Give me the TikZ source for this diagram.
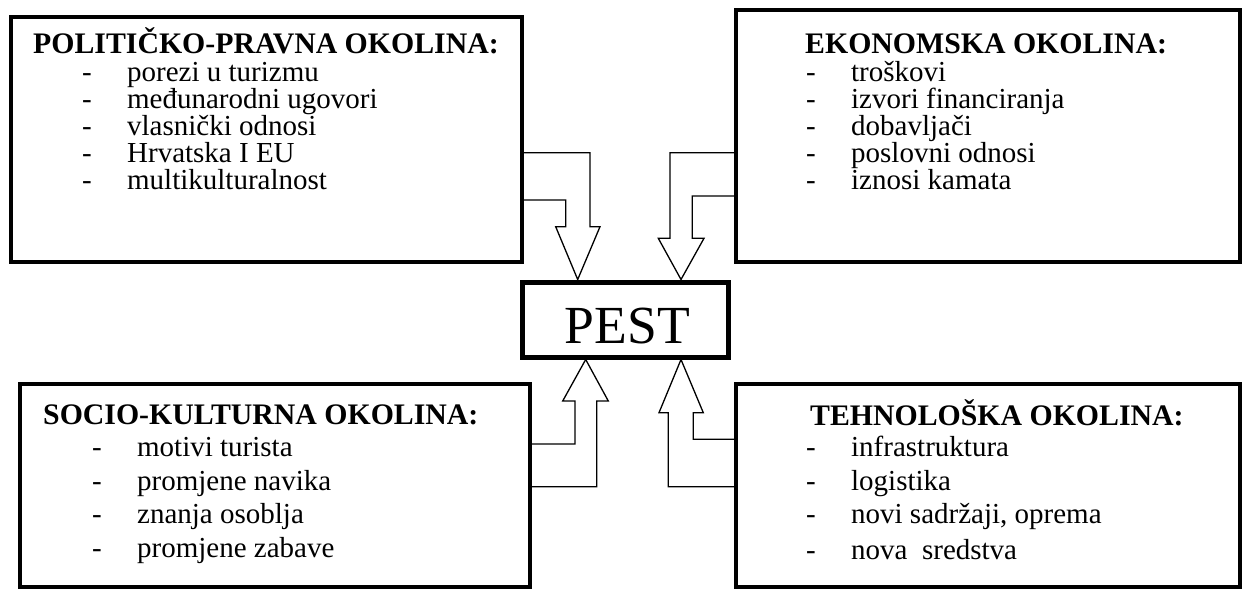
\documentclass[tikz,border=0pt]{standalone}
\usepackage{fontspec}
\setmainfont{Liberation Serif}
\pgfdeclarelayer{bg}
\pgfsetlayers{bg,main}
\begin{document}
\begin{tikzpicture}[x=1pt,y=-1pt,
  box/.style={draw, line width=4.5pt, outer sep=0pt, inner sep=0pt},
  ttl/.style={anchor=base west, inner sep=0pt, font=\fontsize{29.8}{30}\selectfont\bfseries},
  itm/.style={anchor=base west, inner sep=0pt, font=\fontsize{29}{29}\selectfont},
  barrow/.style={draw, line width=1.3pt, fill=white, line join=miter}]
\useasboundingbox (0,0) rectangle (1251,590);

% boxes
\node[box, minimum width=511pt, minimum height=245pt] (pl) at (266.5,139.5) {};
\node[box, minimum width=504pt, minimum height=252pt] (er) at (988,136) {};
\node[box, minimum width=510pt, minimum height=203pt] (sl) at (275,485.5) {};
\node[box, minimum width=504pt, minimum height=203pt] (th) at (988,485.5) {};
\node[draw, line width=5pt, inner sep=0pt, minimum width=206pt, minimum height=75pt] (pest) at (625,319.5) {};
\node[anchor=base, inner sep=0pt, font=\fontsize{53.6}{54}\selectfont] (pestt) at (627.5,343) {PEST};

% block arrows
\begin{pgfonlayer}{bg}
\fill[white] (0,0) rectangle (1251,590);
\draw[barrow] (pl.east |- 0,152.7) -- (590,152.7) -- (590,226.7) -- (600,226.7)
  -- (pest.north -| 577.7,0) -- (555.7,226.7) -- (565.7,226.7) -- (565.7,200)
  -- (pl.east |- 0,200) -- cycle;
\draw[barrow] (er.west |- 0,152.7) -- (670,152.7) -- (670,238.3) -- (658.3,238.3)
  -- (pest.north -| 681,0) -- (704,238.3) -- (692.3,238.3) -- (692.3,196)
  -- (er.west |- 0,196) -- cycle;
\draw[barrow] (sl.east |- 0,444) -- (575,444) -- (575,401) -- (562.7,401)
  -- (pest.south -| 585.7,0) -- (608.3,401) -- (596.7,401) -- (596.7,486.7)
  -- (sl.east |- 0,486.7) -- cycle;
\draw[barrow] (th.west |- 0,439.3) -- (693.3,439.3) -- (693.3,412.7) -- (703.3,412.7)
  -- (pest.south -| 681,0) -- (659,412.7) -- (668.3,412.7) -- (668.3,486.7)
  -- (th.west |- 0,486.7) -- cycle;
\end{pgfonlayer}

% texts: political-legal
\node[ttl] (plt) at (33,53) {POLITIČKO-PRAVNA OKOLINA:};
\node[itm] (pl1) at (82,81)  {\makebox[45pt][l]{-}porezi u turizmu};
\node[itm] (pl2) at (82,108) {\makebox[45pt][l]{-}međunarodni ugovori};
\node[itm] (pl3) at (82,135) {\makebox[45pt][l]{-}vlasnički odnosi};
\node[itm] (pl4) at (82,162) {\makebox[45pt][l]{-}Hrvatska I EU};
\node[itm] (pl5) at (82,189) {\makebox[45pt][l]{-}multikulturalnost};

% economic
\node[ttl] (ert) at (805,53) {EKONOMSKA OKOLINA:};
\node[itm] (er1) at (806,81)  {\makebox[45pt][l]{-}troškovi};
\node[itm] (er2) at (806,108) {\makebox[45pt][l]{-}izvori financiranja};
\node[itm] (er3) at (806,135) {\makebox[45pt][l]{-}dobavljači};
\node[itm] (er4) at (806,162) {\makebox[45pt][l]{-}poslovni odnosi};
\node[itm] (er5) at (806,189) {\makebox[45pt][l]{-}iznosi kamata};

% socio-cultural
\node[ttl] (slt) at (43,424) {SOCIO-KULTURNA OKOLINA:};
\node[itm] (sl1) at (92,456) {\makebox[45pt][l]{-}motivi turista};
\node[itm] (sl2) at (92,490) {\makebox[45pt][l]{-}promjene navika};
\node[itm] (sl3) at (92,523) {\makebox[45pt][l]{-}znanja osoblja};
\node[itm] (sl4) at (92,557) {\makebox[45pt][l]{-}promjene zabave};

% technological
\node[ttl] (tht) at (810,425) {TEHNOLOŠKA OKOLINA:};
\node[itm] (th1) at (806,456) {\makebox[45pt][l]{-}infrastruktura};
\node[itm] (th2) at (806,490) {\makebox[45pt][l]{-}logistika};
\node[itm] (th3) at (806,523) {\makebox[45pt][l]{-}novi sadržaji, oprema};
\node[itm] (th4) at (806,559) {\makebox[45pt][l]{-}nova\ \ sredstva};
\end{tikzpicture}
\end{document}
